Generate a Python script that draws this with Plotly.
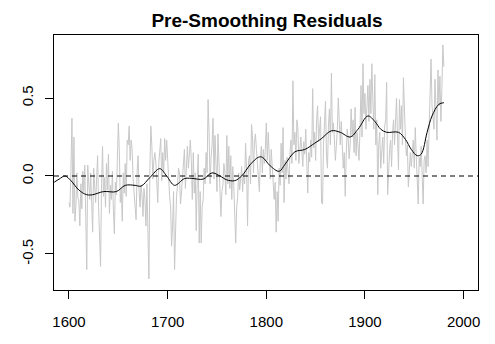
import plotly.graph_objects as go

# Annual pre-smoothing residuals, 1600-1980
start_year = 1600
residuals = [
    -0.17, -0.20, 0.05, 0.37, -0.24, 0.25, -0.29, -0.19, 0.02, -0.14,   # 1600s
    -0.16, -0.32, -0.05, -0.21, 0.03, -0.10, 0.07, -0.28, -0.60, 0.07,  # 1610s
    -0.08, -0.15, 0.02, -0.23, -0.36, 0.05, -0.12, -0.17, -0.02, 0.13,  # 1620s
    -0.20, -0.41, -0.58, -0.05, 0.19, -0.13, -0.01, -0.20, 0.08, -0.09, # 1630s
    0.14, -0.24, -0.06, -0.15, 0.03, -0.22, -0.37, -0.04, -0.12, 0.10,  # 1640s
    0.34, 0.17, -0.17, -0.08, -0.29, 0.02, -0.11, 0.08, -0.13, 0.23,    # 1650s
    0.20, 0.32, 0.10, 0.23, 0.17, -0.02, -0.12, -0.24, -0.28, 0.02,     # 1660s
    0.13, -0.09, -0.20, -0.06, -0.12, -0.26, -0.08, -0.15, -0.32, -0.05,# 1670s
    -0.30, -0.66, 0.05, 0.32, 0.19, -0.02, 0.10, 0.15, 0.09, -0.05,     # 1680s
    -0.17, 0.08, 0.19, 0.24, -0.03, 0.15, 0.02, 0.24, 0.10, 0.23,       # 1690s
    0.11, -0.05, -0.13, -0.20, -0.45, -0.32, -0.10, -0.60, -0.25, -0.13,# 1700s
    -0.06, 0.05, 0.02, -0.18, -0.11, -0.02, 0.05, 0.17, -0.08, 0.06,    # 1710s
    0.19, 0.05, 0.13, 0.23, 0.10, -0.15, 0.15, -0.11, 0.02, -0.35,      # 1720s
    -0.02, 0.14, -0.43, -0.10, -0.43, -0.20, -0.15, 0.05, -0.05, 0.15,  # 1730s
    0.02, 0.49, 0.28, -0.05, 0.11, 0.20, 0.37, -0.02, 0.26, 0.11,       # 1740s
    -0.10, 0.27, 0.05, -0.19, -0.26, -0.10, -0.06, 0.08, 0.02, -0.12,   # 1750s
    0.26, -0.05, 0.19, -0.08, 0.13, -0.15, 0.06, -0.06, -0.25, -0.43,   # 1760s
    -0.20, -0.13, 0.02, -0.09, -0.02, 0.06, -0.10, 0.02, -0.05, 0.21,   # 1770s
    0.05, -0.32, 0.10, 0.13, -0.05, 0.33, 0.26, 0.02, 0.22, 0.27,       # 1780s
    0.17, 0.05, -0.06, -0.10, 0.12, 0.19, 0.02, 0.17, 0.08, 0.17,       # 1790s
    0.34, 0.10, 0.28, 0.13, -0.02, 0.17, 0.05, 0.02, -0.15, -0.04,      # 1800s
    -0.36, -0.10, -0.29, 0.05, -0.06, 0.21, 0.02, 0.31, -0.17, 0.10,    # 1810s
    -0.02, 0.12, 0.04, -0.05, 0.15, 0.23, 0.08, 0.61, 0.20, 0.28,       # 1820s
    0.10, 0.36, 0.31, 0.08, 0.17, 0.25, 0.17, 0.06, 0.22, 0.14,         # 1830s
    0.30, 0.02, -0.11, 0.15, 0.09, 0.23, 0.12, 0.56, 0.18, 0.28,        # 1840s
    0.10, 0.36, 0.45, 0.22, 0.30, 0.38, -0.17, -0.18, 0.20, 0.36,       # 1850s
    0.48, 0.13, 0.05, 0.32, 0.43, 0.20, 0.66, 0.28, 0.34, 0.24,         # 1860s
    0.10, 0.19, 0.30, 0.50, 0.37, 0.20, 0.35, 0.19, 0.05, 0.15,         # 1870s
    -0.13, 0.13, 0.30, 0.24, 0.11, 0.20, 0.43, 0.25, 0.36, 0.15,        # 1880s
    0.44, 0.13, 0.28, 0.19, 0.10, 0.30, 0.58, 0.25, 0.72, 0.40,         # 1890s
    0.53, 0.30, 0.45, 0.58, 0.35, 0.62, 0.40, 0.72, 0.49, 0.30,         # 1900s
    0.65, 0.20, 0.36, -0.12, 0.20, 0.28, 0.05, 0.15, 0.25, 0.08,        # 1910s
    0.32, 0.36, 0.60, -0.12, 0.10, 0.17, 0.23, 0.06, 0.28, 0.36,        # 1920s
    0.20, 0.36, 0.50, 0.25, 0.04, 0.49, 0.30, 0.45, 0.20, 0.63,         # 1930s
    0.38, 0.25, 0.13, 0.20, -0.07, 0.10, 0.15, 0.06, 0.18, 0.23,        # 1940s
    0.05, 0.31, 0.13, 0.00, -0.18, 0.12, 0.06, 0.19, 0.02, -0.18,       # 1950s
    0.10, 0.13, 0.02, 0.23, 0.06, 0.30, 0.56, 0.75, 0.45, 0.38,         # 1960s
    0.30, 0.62, 0.40, 0.23, 0.68, 0.45, 0.64, 0.35, 0.56, 0.84,         # 1970s
    0.70,                                                               # 1980
]
years = list(range(start_year, start_year + len(residuals)))

# Smooth curve (read at key years)
smooth_years = [1585, 1590, 1596, 1602, 1610, 1618, 1624, 1635, 1648, 1657,
                1667, 1673, 1682, 1692, 1699, 1707, 1717, 1724, 1736, 1745,
                1753, 1760, 1768, 1775, 1784, 1792, 1796, 1804, 1813, 1819,
                1829, 1839, 1849, 1856, 1866, 1875, 1885, 1893, 1903, 1910,
                1916, 1922, 1934, 1941, 1947, 1953, 1957, 1963, 1968, 1975,
                1980]
smooth_vals = [-0.04, -0.02, 0.0, -0.03, -0.09, -0.12, -0.12, -0.10, -0.10, -0.06,
               -0.06, -0.065, -0.01, 0.047, 0.0, -0.06, -0.017, -0.015, -0.02, 0.02,
               0.0, -0.025, -0.03, 0.0, 0.075, 0.12, 0.12, 0.065, 0.03, 0.075,
               0.155, 0.17, 0.21, 0.24, 0.29, 0.28, 0.25, 0.30, 0.385, 0.35,
               0.30, 0.28, 0.28, 0.235, 0.17, 0.13, 0.14, 0.28, 0.385, 0.46,
               0.47]

x_ticks = [1600, 1700, 1800, 1900, 2000]
y_ticks = [-0.5, 0.0, 0.5]
y_tick_labels = ["-0.5", "0.0", "0.5"]

FONT = "Liberation Sans, Arial, sans-serif"

fig = go.Figure()
fig.add_trace(go.Scatter(x=years, y=residuals, mode="lines",
                         line=dict(color="#c8c8c8", width=1),
                         hoverinfo="skip", showlegend=False))
fig.add_trace(go.Scatter(x=smooth_years, y=smooth_vals, mode="lines",
                         line=dict(color="black", width=1, shape="spline", smoothing=1.0),
                         hoverinfo="skip", showlegend=False))
fig.add_hline(y=0, line=dict(color="black", width=1.2, dash="5px,4px"))

fig.update_layout(
    width=495, height=344,
    margin=dict(l=54, r=17, t=35, b=54),
    paper_bgcolor="white", plot_bgcolor="white",
    font=dict(family=FONT, color="black", size=15),
    title=dict(text="<b>Pre-Smoothing Residuals</b>", x=267/495, xanchor="center",
               y=1 - 20.5/344, yanchor="middle", font=dict(size=19, family=FONT)),
)
fig.update_xaxes(range=[1584.8, 2014.6], tickvals=x_ticks, ticks="outside", ticklen=8,
                 tickwidth=1, tickcolor="black", showgrid=False, zeroline=False,
                 showline=True, linecolor="black", linewidth=1, mirror=True,
                 ticklabelstandoff=10, tickfont=dict(size=15))
fig.update_yaxes(range=[-0.731, 0.904], tickvals=y_ticks, ticktext=y_tick_labels,
                 ticks="outside", ticklen=8, tickwidth=1, tickcolor="black",
                 showgrid=False, zeroline=False, showline=True, linecolor="black",
                 linewidth=1, mirror=True, tickangle=-90, ticklabelstandoff=6,
                 tickfont=dict(size=15))

fig.write_html("out.html")
